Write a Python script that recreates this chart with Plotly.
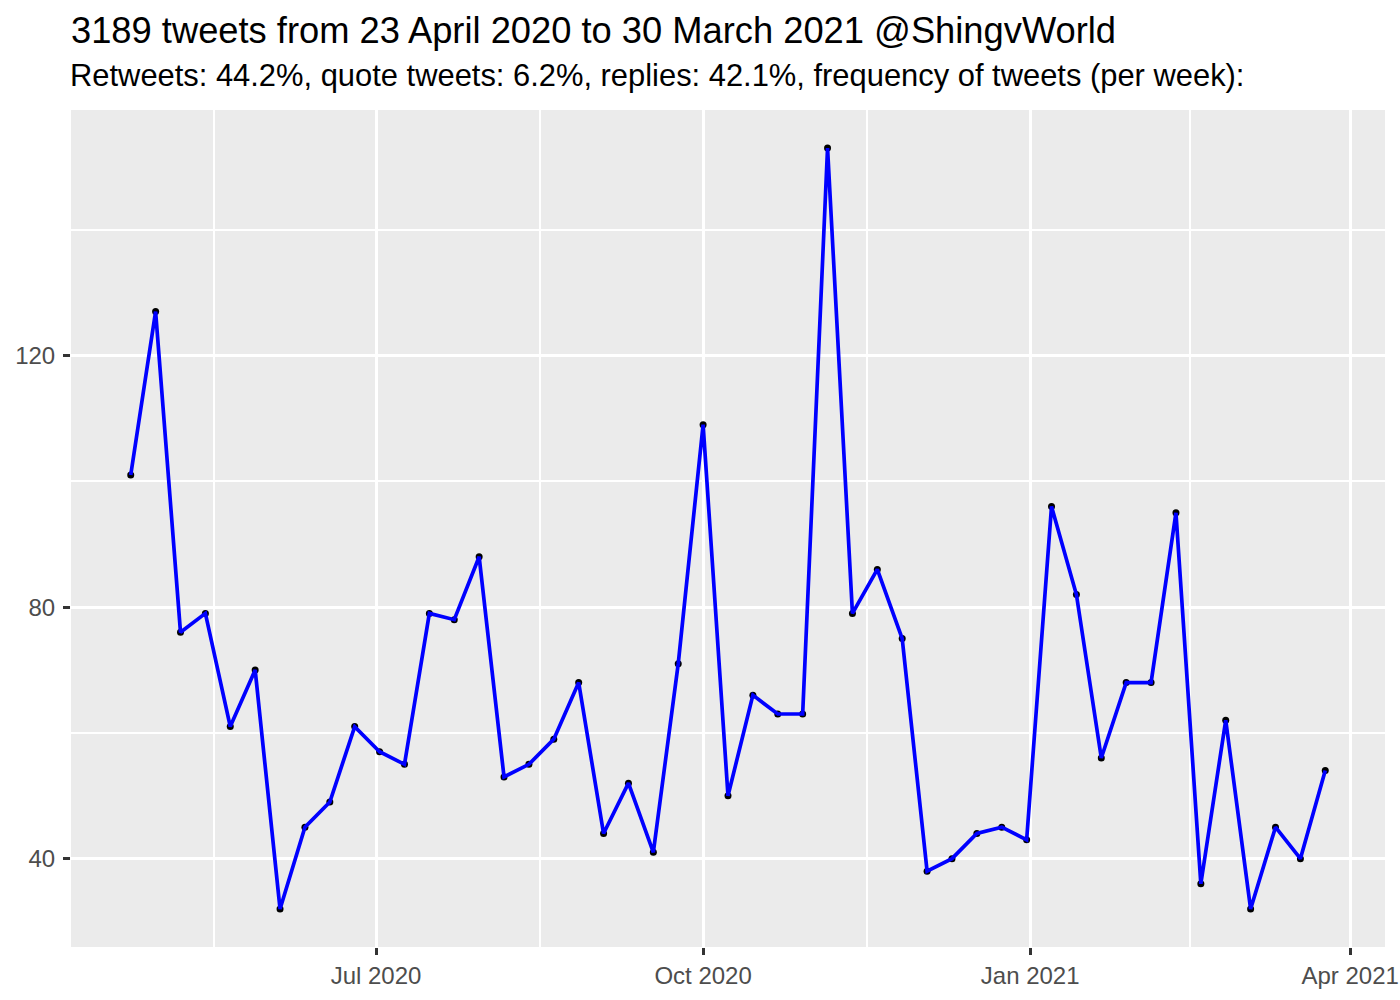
import plotly.graph_objects as go

week_start = [
    "2020-04-23", "2020-04-30", "2020-05-07", "2020-05-14", "2020-05-21", "2020-05-28",
    "2020-06-04", "2020-06-11", "2020-06-18", "2020-06-25", "2020-07-02", "2020-07-09",
    "2020-07-16", "2020-07-23", "2020-07-30", "2020-08-06", "2020-08-13", "2020-08-20",
    "2020-08-27", "2020-09-03", "2020-09-10", "2020-09-17", "2020-09-24", "2020-10-01",
    "2020-10-08", "2020-10-15", "2020-10-22", "2020-10-29", "2020-11-05", "2020-11-12",
    "2020-11-19", "2020-11-26", "2020-12-03", "2020-12-10", "2020-12-17", "2020-12-24",
    "2020-12-31", "2021-01-07", "2021-01-14", "2021-01-21", "2021-01-28", "2021-02-04",
    "2021-02-11", "2021-02-18", "2021-02-25", "2021-03-04", "2021-03-11", "2021-03-18",
    "2021-03-25",
]
tweets_per_week = [
    101, 127, 76, 79, 61, 70, 32, 45, 49, 61, 57, 55,
    79, 78, 88, 53, 55, 59, 68, 44, 52, 41, 71, 109,
    50, 66, 63, 63, 153, 79, 86, 75, 38, 40, 44, 45,
    43, 96, 82, 56, 68, 68, 95, 36, 62, 32, 45, 40,
    54,
]

x_tickvals = ["2020-07-01", "2020-10-01", "2021-01-01", "2021-04-01"]
x_ticktext = ["Jul 2020", "Oct 2020", "Jan 2021", "Apr 2021"]
x_minorvals = ["2020-05-16 12:00", "2020-08-16", "2020-11-16", "2021-02-15"]
y_tickvals = [40, 80, 120]
y_minorvals = [60, 100, 140]

title_text = "3189 tweets from 23 April 2020 to 30 March 2021 @ShingvWorld"
subtitle_text = "Retweets: 44.2%, quote tweets: 6.2%, replies: 42.1%, frequency of tweets (per week):"

FONT = "Liberation Sans, Arial, Helvetica, sans-serif"

fig = go.Figure()
fig.add_trace(go.Scatter(
    x=week_start, y=tweets_per_week, mode="markers",
    marker=dict(color="black", size=7, line=dict(width=0)),
    showlegend=False, hoverinfo="skip",
))
fig.add_trace(go.Scatter(
    x=week_start, y=tweets_per_week, mode="lines",
    line=dict(color="#0000FF", width=3.7),
    showlegend=False,
))

fig.update_layout(
    width=1400, height=1000,
    margin=dict(l=71, r=15, t=110, b=53, autoexpand=False),
    paper_bgcolor="white",
    plot_bgcolor="#EBEBEB",
    font=dict(family=FONT, color="#4D4D4D"),
    title=dict(
        text=title_text,
        font=dict(family=FONT, size=36.3, color="black"),
        x=71 / 1400, xanchor="left", xref="container",
        y=1 - 30 / 1000, yanchor="middle", yref="container",
    ),
    annotations=[dict(
        text=subtitle_text, showarrow=False,
        xref="paper", yref="paper", x=0, y=1 + 34 / 837, xshift=-3,
        xanchor="left", yanchor="middle",
        font=dict(family=FONT, size=30.9, color="black"),
    )],
    xaxis=dict(
        type="date",
        range=["2020-04-06 04:48", "2021-04-10 19:12"],
        tickmode="array", tickvals=x_tickvals, ticktext=x_ticktext,
        showgrid=True, gridcolor="white", gridwidth=3,
        ticks="outside", ticklen=7, tickwidth=3, tickcolor="#333333",
        tickfont=dict(family=FONT, size=24, color="#4D4D4D"),
        minor=dict(tickmode="array", tickvals=x_minorvals, showgrid=True,
                   gridcolor="white", gridwidth=1.6, ticks=""),
        zeroline=False, showline=False,
    ),
    yaxis=dict(
        range=[25.95, 159.05],
        tickmode="array", tickvals=y_tickvals,
        showgrid=True, gridcolor="white", gridwidth=3,
        ticks="outside", ticklen=7, tickwidth=3, tickcolor="#333333",
        tickfont=dict(family=FONT, size=24, color="#4D4D4D"),
        ticklabelstandoff=3,
        minor=dict(tickmode="array", tickvals=y_minorvals, showgrid=True,
                   gridcolor="white", gridwidth=1.6, ticks=""),
        zeroline=False, showline=False,
    ),
)

fig.write_html(
    "out.html",
    config={"displayModeBar": False},
    post_script="document.body.style.margin='0';document.body.style.overflow='hidden';",
)
